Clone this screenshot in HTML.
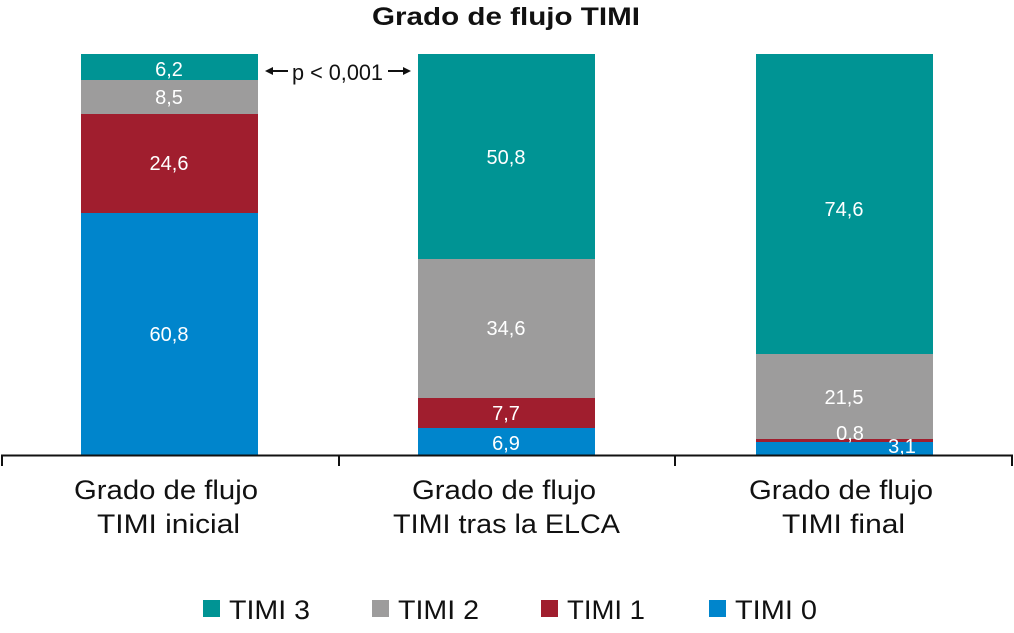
<!DOCTYPE html>
<html><head><style>
body{margin:0;background:#fff;}
svg text{font-family:"Liberation Sans",Arial,sans-serif;}
</style></head><body>
<svg width="1014" height="628" viewBox="0 0 1014 628" xmlns="http://www.w3.org/2000/svg">
<text x="372" y="25" font-size="25" font-weight="bold" fill="#111" textLength="268" lengthAdjust="spacingAndGlyphs">Grado de flujo TIMI</text>
<g>
<rect x="81" y="54" width="177" height="26" fill="#009494"/>
<rect x="81" y="80" width="177" height="34" fill="#9d9c9c"/>
<rect x="81" y="114" width="177" height="99" fill="#a01e2e"/>
<rect x="81" y="213" width="177" height="242" fill="#0085cc"/>
<rect x="418" y="54" width="177" height="205" fill="#009494"/>
<rect x="418" y="259" width="177" height="139" fill="#9d9c9c"/>
<rect x="418" y="398" width="177" height="30" fill="#a01e2e"/>
<rect x="418" y="428" width="177" height="27" fill="#0085cc"/>
<rect x="756" y="54" width="177" height="300" fill="#009494"/>
<rect x="756" y="354" width="177" height="85" fill="#9d9c9c"/>
<rect x="756" y="439" width="177" height="3" fill="#a01e2e"/>
<rect x="756" y="442" width="177" height="13" fill="#0085cc"/>
</g>
<g fill="#fff" font-size="20" text-anchor="middle">
<text x="169" y="76">6,2</text>
<text x="169" y="104">8,5</text>
<text x="169" y="170">24,6</text>
<text x="169" y="341">60,8</text>
<text x="506" y="164">50,8</text>
<text x="506" y="335">34,6</text>
<text x="506" y="420">7,7</text>
<text x="506" y="450">6,9</text>
<text x="844" y="216">74,6</text>
<text x="844" y="404">21,5</text>
<text x="850" y="440">0,8</text>
<text x="902" y="453">3,1</text>
</g>
<text x="292" y="80" font-size="22" fill="#111" textLength="91" lengthAdjust="spacingAndGlyphs">p &lt; 0,001</text>
<g stroke="#111" stroke-width="2" fill="#111">
<line x1="268" y1="71" x2="288" y2="71"/><path d="M265 71 L273 67 L273 75Z" stroke="none"/>
<line x1="388" y1="71" x2="408" y2="71"/><path d="M411 71 L403 67 L403 75Z" stroke="none"/>
</g>
<g stroke="#111" stroke-width="2">
<line x1="1" y1="455.5" x2="1013" y2="455.5"/>
<line x1="2" y1="455" x2="2" y2="466"/>
<line x1="339" y1="455" x2="339" y2="466"/>
<line x1="675" y1="455" x2="675" y2="466"/>
<line x1="1012" y1="455" x2="1012" y2="466"/>
</g>
<g fill="#111" font-size="27" lengthAdjust="spacingAndGlyphs">
<text x="74" y="499" textLength="184" lengthAdjust="spacingAndGlyphs">Grado de flujo</text>
<text x="97" y="533" textLength="143" lengthAdjust="spacingAndGlyphs">TIMI inicial</text>
<text x="412" y="499" textLength="184" lengthAdjust="spacingAndGlyphs">Grado de flujo</text>
<text x="393" y="533" textLength="227" lengthAdjust="spacingAndGlyphs">TIMI tras la ELCA</text>
<text x="749" y="499" textLength="184" lengthAdjust="spacingAndGlyphs">Grado de flujo</text>
<text x="782" y="533" textLength="123" lengthAdjust="spacingAndGlyphs">TIMI final</text>
</g>
<g font-size="27" fill="#111">
<rect x="203" y="600" width="17" height="17" fill="#009494"/><text x="229" y="619" textLength="81" lengthAdjust="spacingAndGlyphs">TIMI 3</text>
<rect x="372" y="600" width="17" height="17" fill="#9d9c9c"/><text x="398" y="619" textLength="81" lengthAdjust="spacingAndGlyphs">TIMI 2</text>
<rect x="541" y="600" width="17" height="17" fill="#a01e2e"/><text x="567" y="619" textLength="78" lengthAdjust="spacingAndGlyphs">TIMI 1</text>
<rect x="709" y="600" width="17" height="17" fill="#0085cc"/><text x="735" y="619" textLength="82" lengthAdjust="spacingAndGlyphs">TIMI 0</text>
</g>
</svg>
</body></html>
